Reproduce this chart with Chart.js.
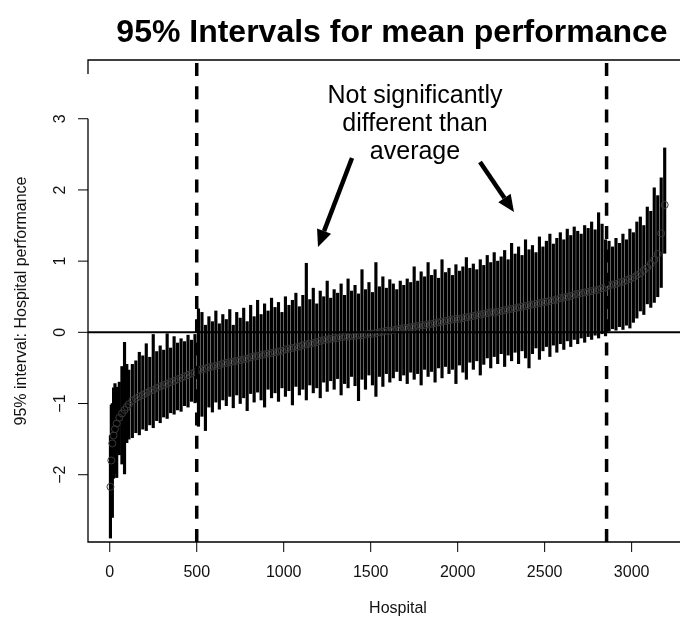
<!DOCTYPE html>
<html>
<head>
<meta charset="utf-8">
<script src="https://cdn.jsdelivr.net/npm/chart.js@4.4.1/dist/chart.umd.min.js"></script>
<style>
  html, body { margin: 0; padding: 0; background: #fff; }
  canvas { display: block; }
</style>
</head>
<body>
<canvas id="c" width="685" height="618"></canvas>
<script>
// hospitals (every ~20th, sorted by mean performance)
const hospital = [
  4, 9, 15, 22, 30, 40, 55, 70, 85, 98,
  110, 130, 150, 170, 190, 210, 230, 250, 270, 290,
  310, 330, 350, 370, 390, 410, 430, 450, 470, 490,
  510, 530, 550, 570, 590, 610, 630, 650, 670, 690,
  710, 730, 750, 770, 790, 810, 830, 850, 870, 890,
  910, 930, 950, 970, 990, 1010, 1030, 1050, 1070, 1090,
  1110, 1130, 1150, 1170, 1190, 1210, 1230, 1250, 1270, 1290,
  1310, 1330, 1350, 1370, 1390, 1410, 1430, 1450, 1470, 1490,
  1510, 1530, 1550, 1570, 1590, 1610, 1630, 1650, 1670, 1690,
  1710, 1730, 1750, 1770, 1790, 1810, 1830, 1850, 1870, 1890,
  1910, 1930, 1950, 1970, 1990, 2010, 2030, 2050, 2070, 2090,
  2110, 2130, 2150, 2170, 2190, 2210, 2230, 2250, 2270, 2290,
  2310, 2330, 2350, 2370, 2390, 2410, 2430, 2450, 2470, 2490,
  2510, 2530, 2550, 2570, 2590, 2610, 2630, 2650, 2670, 2690,
  2710, 2730, 2750, 2770, 2790, 2810, 2830, 2850, 2870, 2890,
  2910, 2930, 2950, 2970, 2990, 3010, 3030, 3050, 3070, 3090,
  3110, 3130, 3150, 3170, 3190
];
const mean = [
  -2.17, -1.80, -1.56, -1.45, -1.36, -1.28, -1.20, -1.14, -1.09, -1.05,
  -1.01, -0.96, -0.93, -0.90, -0.88, -0.85, -0.83, -0.81, -0.78, -0.76,
  -0.74, -0.72, -0.70, -0.68, -0.66, -0.64, -0.62, -0.60, -0.58, -0.56,
  -0.53, -0.52, -0.51, -0.49, -0.48, -0.47, -0.46, -0.44, -0.43, -0.42,
  -0.41, -0.40, -0.39, -0.38, -0.37, -0.35, -0.34, -0.33, -0.32, -0.31,
  -0.30, -0.29, -0.28, -0.27, -0.26, -0.24, -0.23, -0.22, -0.21, -0.20,
  -0.18, -0.17, -0.16, -0.15, -0.14, -0.12, -0.11, -0.10, -0.09, -0.08,
  -0.08, -0.07, -0.06, -0.06, -0.05, -0.05, -0.04, -0.04, -0.03, -0.02,
  -0.02, -0.01, 0.00, 0.01, 0.02, 0.02, 0.03, 0.04, 0.05, 0.06,
  0.06, 0.07, 0.08, 0.09, 0.10, 0.10, 0.11, 0.12, 0.13, 0.14,
  0.15, 0.16, 0.17, 0.18, 0.19, 0.19, 0.20, 0.21, 0.22, 0.23,
  0.24, 0.25, 0.26, 0.27, 0.28, 0.28, 0.29, 0.30, 0.31, 0.32,
  0.33, 0.34, 0.35, 0.36, 0.37, 0.38, 0.39, 0.40, 0.41, 0.42,
  0.43, 0.44, 0.45, 0.46, 0.48, 0.49, 0.50, 0.51, 0.53, 0.54,
  0.55, 0.56, 0.57, 0.58, 0.59, 0.60, 0.62, 0.63, 0.66, 0.67,
  0.68, 0.70, 0.71, 0.73, 0.75, 0.77, 0.80, 0.83, 0.87, 0.91,
  0.96, 1.02, 1.10, 1.39, 1.79
];
const lower = [
  -2.89, -2.35, -2.60, -2.05, -1.98, -2.04, -1.72, -1.85, -1.99, -1.55,
  -1.50, -1.48, -1.41, -1.44, -1.36, -1.38, -1.30, -1.34, -1.24, -1.27,
  -1.19, -1.21, -1.13, -1.15, -1.09, -1.11, -1.03, -1.05, -0.97, -0.99,
  -1.32, -1.18, -1.38, -1.05, -1.12, -0.98, -1.08, -0.95, -1.03, -0.90,
  -1.06, -0.88, -1.00, -0.92, -1.10, -0.86, -0.98, -0.84, -0.95, -1.05,
  -0.80, -0.92, -0.85, -0.97, -0.78, -0.90, -0.82, -1.02, -0.76, -0.88,
  -0.80, -0.95, -0.74, -0.85, -0.78, -0.92, -0.70, -0.83, -0.68, -0.80,
  -0.65, -0.88, -0.72, -0.78, -0.62, -0.75, -0.96, -0.66, -0.80, -0.60,
  -0.74, -0.90, -0.62, -0.76, -0.58, -0.70, -0.64, -0.55, -0.68, -0.60,
  -0.72, -0.56, -0.66, -0.58, -0.74, -0.52, -0.62, -0.55, -0.70, -0.50,
  -0.64, -0.48, -0.58, -0.52, -0.72, -0.46, -0.56, -0.66, -0.42, -0.52,
  -0.40, -0.60, -0.45, -0.36, -0.50, -0.34, -0.44, -0.30, -0.48, -0.32,
  -0.40, -0.28, -0.44, -0.26, -0.36, -0.50, -0.30, -0.22, -0.38, -0.26,
  -0.20, -0.34, -0.18, -0.28, -0.16, -0.24, -0.12, -0.20, -0.10, -0.16,
  -0.08, -0.14, -0.06, -0.10, -0.04, -0.08, -0.02, -0.05, 0.02, 0.05,
  0.03, 0.08, 0.04, 0.10, 0.06, 0.14, 0.20, 0.30, 0.25, 0.40,
  0.35, 0.42, 0.50, 0.63, 1.11
];
const upper = [
  -1.45, -1.02, -1.00, -0.78, -0.72, -0.77, -0.70, -0.48, -0.14, -0.45,
  -0.53, -0.45, -0.40, -0.28, -0.33, -0.16, -0.35, -0.03, -0.27, -0.19,
  -0.25, -0.02, -0.22, -0.06, -0.15, -0.09, -0.13, -0.04, -0.11, -0.03,
  0.33, 0.28, 0.10, 0.22, 0.15, 0.30, 0.12, 0.25, 0.18, 0.32,
  0.10, 0.28, 0.20, 0.34, 0.15, 0.38, 0.22, 0.45, 0.25, 0.40,
  0.30, 0.48, 0.35, 0.42, 0.28, 0.50, 0.38, 0.45, 0.55, 0.36,
  0.52, 0.97, 0.46, 0.62, 0.40, 0.58, 0.50, 0.72, 0.48, 0.60,
  0.55, 0.68, 0.52, 0.75, 0.58, 0.66, 0.54, 0.88, 0.60, 0.70,
  0.56, 0.98, 0.64, 0.78, 0.62, 0.74, 0.68, 0.60, 0.72, 0.66,
  0.75, 0.70, 0.92, 0.72, 0.85, 0.78, 0.98, 0.80, 0.88, 0.76,
  1.02, 0.84, 0.90, 0.80, 0.95, 0.86, 0.92, 1.05, 0.90, 0.96,
  0.88, 1.02, 0.94, 1.08, 0.98, 1.12, 1.00, 1.06, 1.15, 1.02,
  1.25, 1.10, 1.20, 1.08, 1.30, 1.16, 1.22, 1.12, 1.34, 1.20,
  1.28, 1.38, 1.24, 1.32, 1.40, 1.30, 1.45, 1.36, 1.48, 1.42,
  1.38, 1.50, 1.46, 1.55, 1.44, 1.68, 1.52, 1.30, 1.28, 1.20,
  1.32, 1.25, 1.38, 1.30, 1.45, 1.40, 1.55, 1.62, 1.50, 1.76,
  1.70, 2.03, 1.92, 2.17, 2.59
];

const xTicks = [0, 500, 1000, 1500, 2000, 2500, 3000];
const yTicks = [-2, -1, 0, 1, 2, 3];
const cutoffs = [500, 2856];   // dashed lines
const refLine = 0;             // overall average
const noteLines = ['Not significantly', 'different than', 'average'];

const FONT = '"Liberation Sans", Arial, sans-serif';

function arrow(ctx, x1, y1, x2, y2) {
  const ang = Math.atan2(y2 - y1, x2 - x1), hl = 17, hw = 7.5;
  const bx = x2 - hl * Math.cos(ang), by = y2 - hl * Math.sin(ang);
  ctx.lineWidth = 4.5;
  ctx.beginPath(); ctx.moveTo(x1, y1); ctx.lineTo(bx, by); ctx.stroke();
  ctx.beginPath();
  ctx.moveTo(x2, y2);
  ctx.lineTo(bx + hw * Math.sin(ang), by - hw * Math.cos(ang));
  ctx.lineTo(bx - hw * Math.sin(ang), by + hw * Math.cos(ang));
  ctx.closePath(); ctx.fill();
}

const decor = {
  id: 'decor',
  afterDatasetsDraw(chart) {
    const { ctx, chartArea: a, scales: { x, y } } = chart;
    ctx.save();
    ctx.strokeStyle = '#000';
    ctx.fillStyle = '#000';

    // line at the average
    const y0 = y.getPixelForValue(refLine);
    ctx.lineWidth = 2;
    ctx.beginPath(); ctx.moveTo(a.left, y0); ctx.lineTo(a.right, y0); ctx.stroke();

    // dashed cut-offs, drawn from the bottom up
    ctx.lineWidth = 3.5;
    ctx.setLineDash([13, 10.3]);
    for (const v of cutoffs) {
      const px = x.getPixelForValue(v);
      ctx.beginPath(); ctx.moveTo(px, a.bottom); ctx.lineTo(px, a.top); ctx.stroke();
    }
    ctx.setLineDash([]);

    // frame
    const yTop = y.getPixelForValue(yTicks[yTicks.length - 1]);
    ctx.lineWidth = 1.3;
    ctx.beginPath();
    ctx.moveTo(a.left, a.top + 14); ctx.lineTo(a.left, a.top); ctx.lineTo(a.right, a.top);
    ctx.moveTo(a.left, yTop); ctx.lineTo(a.left, a.bottom); ctx.lineTo(a.right, a.bottom);
    ctx.stroke();

    // ticks + labels
    ctx.lineWidth = 1;
    ctx.fillStyle = '#111';
    ctx.font = '16px ' + FONT;
    ctx.textAlign = 'center';
    ctx.textBaseline = 'alphabetic';
    for (const v of xTicks) {
      const px = x.getPixelForValue(v);
      ctx.beginPath(); ctx.moveTo(px, a.bottom); ctx.lineTo(px, a.bottom + 10); ctx.stroke();
      ctx.fillText(String(v), px, a.bottom + 35);
    }
    for (const v of yTicks) {
      const py = y.getPixelForValue(v);
      ctx.beginPath(); ctx.moveTo(a.left, py); ctx.lineTo(a.left - 10, py); ctx.stroke();
      ctx.save();
      ctx.translate(a.left - 23, py);
      ctx.rotate(-Math.PI / 2);
      ctx.fillText(v < 0 ? '\u2212' + Math.abs(v) : String(v), 0, 0);
      ctx.restore();
    }

    // axis titles
    ctx.fillText('Hospital', 398, 613);
    ctx.save();
    ctx.translate(26, (a.top + a.bottom) / 2);
    ctx.rotate(-Math.PI / 2);
    ctx.fillText('95% interval: Hospital performance', 0, 0);
    ctx.restore();

    // main title
    ctx.fillStyle = '#000';
    ctx.font = 'bold 32px ' + FONT;
    ctx.fillText('95% Intervals for mean performance', 392, 42);

    // note + arrows
    ctx.font = '25px ' + FONT;
    noteLines.forEach((t, i) => ctx.fillText(t, 415, 103 + i * 28));
    arrow(ctx, 352, 158, 318, 247);
    arrow(ctx, 480, 162, 514, 212);

    ctx.restore();
  }
};

new Chart(document.getElementById('c'), {
  type: 'bar',
  data: {
    datasets: [
      {
        type: 'bar',
        data: hospital.map((h, i) => ({ x: h, y: [lower[i], upper[i]] })),
        backgroundColor: '#000',
        barThickness: 2.5,
        grouped: false,
        order: 2
      },
      {
        type: 'scatter',
        data: hospital.map((h, i) => ({ x: h, y: mean[i] })),
        pointStyle: 'circle',
        pointRadius: 3.5,
        pointBorderWidth: 1,
        pointBorderColor: '#3a3a3a',
        pointBackgroundColor: 'rgba(0,0,0,0)',
        order: 1
      }
    ]
  },
  options: {
    responsive: false,
    animation: false,
    devicePixelRatio: 1,
    layout: { padding: { left: 88, right: 0, top: 60, bottom: 76 } },
    plugins: { legend: { display: false }, tooltip: { enabled: false } },
    scales: {
      x: { type: 'linear', offset: false, min: -125, max: 3278, display: false },
      y: { type: 'linear', min: -2.945, max: 3.825, display: false }
    }
  },
  plugins: [decor]
});
</script>
</body>
</html>
